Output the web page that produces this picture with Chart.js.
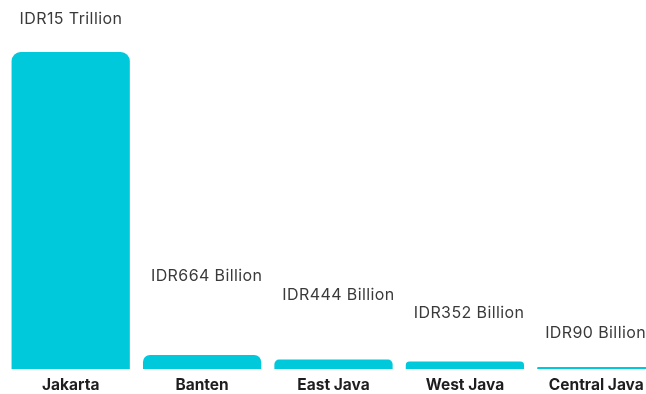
<!DOCTYPE html>
<html>
<head>
<meta charset="utf-8">
<script src="https://cdn.jsdelivr.net/npm/chart.js@4"></script>
<style>
    html, body { margin: 0; padding: 0; background: #fff; overflow: hidden; }
    #wrap { width: 662px; height: 394px; }
</style>
</head>
<body>
<div id="wrap"><canvas id="provChart"></canvas></div>
<script>
// Nilai per provinsi (miliar rupiah)
const provinces = ['Jakarta', 'Banten', 'East Java', 'West Java', 'Central Java'];
const valuesBillion = [15000, 664, 444, 352, 90];
const valueLabels = ['IDR15 Trillion', 'IDR664 Billion', 'IDR444 Billion', 'IDR352 Billion', 'IDR90 Billion'];

// jarak label di atas batang (px)
const labelGap = [33, 79, 64, 48, 34];

const valueLabelPlugin = {
    id: 'valueLabels',
    afterDatasetsDraw(chart) {
        const c = chart.ctx;
        const meta = chart.getDatasetMeta(0);
        c.save();
        c.font = '16px Inter, sans-serif';
        c.letterSpacing = '0.4px';
        c.fillStyle = '#3a3a3a';
        c.textAlign = 'left';
        c.textBaseline = 'middle';
        meta.data.forEach((bar, i) => {
            const left = bar.x - bar.width / 2;
            c.fillText(valueLabels[i], left + 8, bar.y - labelGap[i]);
        });
        c.restore();
    }
};

const ctx = document.getElementById('provChart').getContext('2d');
new Chart(ctx, {
    type: 'bar',
    data: {
        labels: provinces,
        datasets: [{
            data: valuesBillion,
            backgroundColor: '#00c9dc',
            borderRadius: { topLeft: 9, topRight: 9 },
            borderSkipped: 'bottom',
            categoryPercentage: 0.9,
            barPercentage: 1
        }]
    },
    options: {
        responsive: true,
        maintainAspectRatio: false,
        animation: false,
        layout: { padding: { top: 52, left: 5, right: 0, bottom: 0 } },
        plugins: { legend: { display: false }, tooltip: { enabled: false } },
        scales: {
            x: {
                grid: { display: false, drawTicks: false },
                border: { display: false },
                ticks: {
                    color: '#1e1e1e',
                    font: { family: 'Inter, sans-serif', size: 15.5, weight: 'bold' },
                    padding: 7
                },
                afterFit(axis) { axis.height = 25; }
            },
            y: {
                display: false,
                min: 0,
                max: Math.max(...valuesBillion)
            }
        }
    },
    plugins: [valueLabelPlugin]
});
</script>
</body>
</html>
